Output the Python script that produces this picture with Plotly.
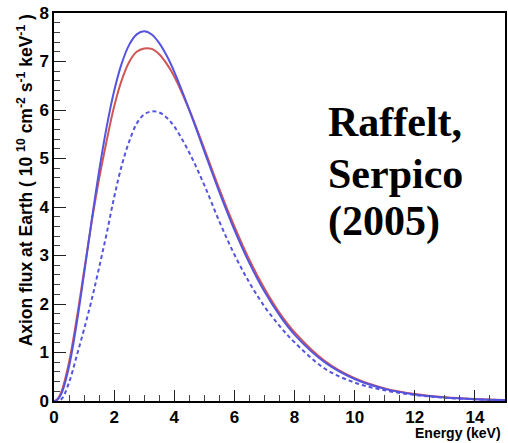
import plotly.graph_objects as go

# Energy grid (keV)
energy = [0, 0.1, 0.25, 0.5, 0.75, 1, 1.25, 1.5, 1.75, 2, 2.25, 2.5, 2.75, 3,
          3.25, 3.5, 3.75, 4, 4.5, 5, 5.5, 6, 6.5, 7, 7.5, 8, 9, 10, 11, 12,
          13, 14, 15]

# Blue solid curve
flux_blue = [0, 0.018, 0.157, 0.712, 1.583, 2.625, 3.711, 4.741, 5.647, 6.392,
             6.957, 7.343, 7.559, 7.623, 7.556, 7.379, 7.117, 6.787, 6.003,
             5.148, 4.307, 3.530, 2.843, 2.256, 1.768, 1.370, 0.801, 0.453,
             0.250, 0.136, 0.072, 0.038, 0.020]

# Red solid curve
flux_red = [0, 0.03, 0.20, 0.80, 1.68, 2.68, 3.68, 4.58, 5.36, 6.07, 6.61,
            6.99, 7.20, 7.27, 7.26, 7.15, 6.95, 6.69, 6.00, 5.20, 4.37, 3.60,
            2.91, 2.32, 1.82, 1.42, 0.83, 0.47, 0.26, 0.142, 0.075, 0.040,
            0.021]

# Blue dashed curve
flux_dashed = [0, 0.0, 0.04, 0.38, 0.92, 1.48, 2.08, 2.75, 3.45, 4.20, 4.85,
               5.35, 5.72, 5.91, 5.97, 5.95, 5.84, 5.66, 5.12, 4.45, 3.70,
               3.02, 2.44, 1.95, 1.55, 1.21, 0.67, 0.38, 0.22, 0.125, 0.068,
               0.036, 0.018]

x_ticks = [0, 2, 4, 6, 8, 10, 12, 14]
y_ticks = [0, 1, 2, 3, 4, 5, 6, 7, 8]

BLUE = "#5454e0"
RED = "#d05656"

fig = go.Figure()
fig.add_trace(go.Scatter(x=energy, y=flux_red, mode="lines",
                         line=dict(color=RED, width=2, shape="spline"),
                         showlegend=False))
fig.add_trace(go.Scatter(x=energy, y=flux_blue, mode="lines",
                         line=dict(color=BLUE, width=2, shape="spline"),
                         showlegend=False))
fig.add_trace(go.Scatter(x=energy, y=flux_dashed, mode="lines",
                         line=dict(color=BLUE, width=2, shape="spline",
                                   dash="4px,3px"),
                         showlegend=False))

tickfont = dict(family="Liberation Sans, Arial, sans-serif", size=17,
                color="black")

fig.update_layout(
    width=508, height=443,
    margin=dict(l=54, r=1, t=13, b=42),
    paper_bgcolor="white", plot_bgcolor="white",
    xaxis=dict(range=[0, 15], tickvals=x_ticks,
               ticktext=["<b>%d</b>" % v for v in x_ticks],
               ticks="inside", ticklen=11, tickwidth=1.2, tickcolor="#222",
               minor=dict(dtick=0.5, tick0=0, ticks="inside", ticklen=6,
                          tickwidth=1, tickcolor="#444"),
               showline=True, linecolor="black", linewidth=1.5, mirror=True,
               showgrid=False, zeroline=False, tickfont=tickfont),
    yaxis=dict(range=[0, 8], tickvals=y_ticks,
               ticktext=["<b>%d</b>" % v for v in y_ticks],
               ticks="inside", ticklen=12, tickwidth=1.2, tickcolor="#222",
               minor=dict(dtick=0.2, tick0=0, ticks="inside", ticklen=6,
                          tickwidth=1, tickcolor="#444"),
               showline=True, linecolor="black", linewidth=1.5, mirror=True,
               showgrid=False, zeroline=False, tickfont=tickfont),
)

serif = dict(family="Liberation Serif, Times New Roman, serif", size=42,
             color="black")
for txt, yy in [("Raffelt,", 0.72), ("Serpico", 0.585), ("(2005)", 0.462)]:
    fig.add_annotation(text="<b>%s</b>" % txt, xref="paper", yref="paper",
                       x=0.603, y=yy, xanchor="left", yanchor="middle",
                       showarrow=False, font=serif)

sans = dict(family="Liberation Sans, Arial, sans-serif", size=14,
            color="black")
fig.add_annotation(text="<b>Energy (keV)</b>", xref="paper", yref="paper",
                   x=0.996, y=-0.082, xanchor="right", yanchor="middle",
                   showarrow=False, font=sans)
fig.add_annotation(
    text="<b>Axion flux at Earth ( 10 <sup>10</sup> cm<sup>-2</sup> s<sup>-1</sup> keV<sup>-1</sup> )</b>",
    xref="paper", yref="paper", x=-0.064, y=1.002, xanchor="center",
    yanchor="top", textangle=-90, showarrow=False,
    font=dict(family="Liberation Sans, Arial, sans-serif", size=17.5,
              color="black"))

fig.write_html("out.html")
